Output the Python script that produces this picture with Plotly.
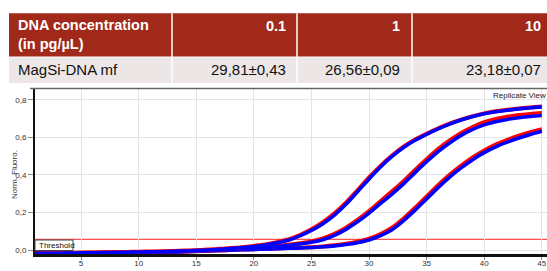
import plotly.graph_objects as go

# ---------------- data ----------------
cycles = list(range(1, 46))

a_blue = [-0.018,-0.017,-0.017,-0.016,-0.015,-0.015,-0.014,-0.013,-0.012,-0.011,
          -0.010,-0.009,-0.007,-0.005,-0.003,0.000,0.004,0.008,0.013,0.019,
          0.027,0.038,0.052,0.075,0.104,0.140,0.186,0.243,0.310,0.378,
          0.442,0.498,0.546,0.584,0.616,0.645,0.670,0.692,0.710,0.725,
          0.736,0.744,0.751,0.757,0.762]
a_red = [-0.016,-0.016,-0.015,-0.015,-0.014,-0.013,-0.012,-0.011,-0.010,-0.009,
         -0.008,-0.007,-0.005,-0.003,-0.001,0.002,0.006,0.010,0.015,0.022,
         0.030,0.042,0.057,0.080,0.110,0.148,0.195,0.252,0.318,0.386,
         0.448,0.503,0.550,0.588,0.619,0.648,0.673,0.694,0.712,0.727,
         0.738,0.746,0.753,0.759,0.764]
b_blue = [-0.019,-0.018,-0.018,-0.017,-0.016,-0.016,-0.015,-0.014,-0.013,-0.012,
          -0.011,-0.010,-0.009,-0.007,-0.005,-0.003,0.000,0.003,0.006,0.010,
          0.014,0.019,0.025,0.032,0.041,0.055,0.078,0.110,0.150,0.196,
          0.248,0.298,0.352,0.412,0.470,0.524,0.570,0.610,0.642,0.666,
          0.683,0.695,0.704,0.711,0.716]
b_red = [-0.018,-0.017,-0.017,-0.016,-0.015,-0.015,-0.014,-0.013,-0.012,-0.011,
         -0.010,-0.009,-0.008,-0.006,-0.004,-0.002,0.001,0.004,0.008,0.012,
         0.016,0.021,0.028,0.036,0.046,0.062,0.086,0.119,0.160,0.207,
         0.260,0.312,0.366,0.426,0.483,0.537,0.583,0.623,0.655,0.680,
         0.697,0.709,0.718,0.724,0.729]
c_blue = [-0.020,-0.019,-0.019,-0.018,-0.017,-0.017,-0.016,-0.015,-0.014,-0.013,
          -0.012,-0.011,-0.010,-0.009,-0.007,-0.005,-0.003,-0.001,0.001,0.003,
          0.005,0.007,0.009,0.011,0.013,0.017,0.022,0.029,0.039,0.053,
          0.076,0.108,0.156,0.212,0.272,0.332,0.388,0.437,0.481,0.518,
          0.549,0.574,0.596,0.615,0.632]
c_red = [-0.019,-0.018,-0.018,-0.017,-0.016,-0.016,-0.015,-0.014,-0.013,-0.012,
         -0.011,-0.010,-0.009,-0.008,-0.006,-0.004,-0.002,0.000,0.002,0.004,
         0.006,0.008,0.010,0.012,0.015,0.019,0.025,0.033,0.044,0.060,
         0.085,0.119,0.168,0.225,0.285,0.345,0.400,0.449,0.493,0.530,
         0.561,0.586,0.608,0.627,0.643]

threshold = 0.057

x_tick_vals = [5, 10, 15, 20, 25, 30, 35, 40, 45]
x_tick_text = ["5", "10", "15", "20", "25", "30", "35", "40", "45"]
y_tick_vals = [0.0, 0.2, 0.4, 0.6, 0.8]
y_tick_text = ["0,0", "0,2", "0,4", "0,6", "0,8"]

table_corner = "DNA concentration<br>(in pg/µL)"
concentrations = ["0.1", "1", "10"]
row_label = "MagSi-DNA mf"
ct_values = ["29,81±0,43", "26,56±0,09", "23,18±0,07"]

# ---------------- layout helpers ----------------
W, H = 547, 271
L, R, T, B = 35, 0, 89, 17
PW, PH = W - L - R, H - T - B

def fx(px):
    return (px - L) / PW

def fy(py):
    return (H - B - py) / PH

FONT = "Liberation Sans, Arial, sans-serif"

fig = go.Figure()

for red, blue in [(c_red, c_blue), (b_red, b_blue), (a_red, a_blue)]:
    fig.add_trace(go.Scatter(x=cycles, y=red, mode="lines", line=dict(color="#ff0000", width=4, shape="spline"),
                             hoverinfo="skip", showlegend=False))
    fig.add_trace(go.Scatter(x=cycles, y=blue, mode="lines", line=dict(color="#0000ff", width=3.6, shape="spline"),
                             hoverinfo="skip", showlegend=False))

shapes = []
annotations = []

# threshold line
shapes.append(dict(type="line", xref="paper", yref="y", x0=0, x1=1, y0=threshold, y1=threshold,
                   line=dict(color="#ff2020", width=1), layer="below"))
# threshold label box
shapes.append(dict(type="rect", xref="paper", yref="paper", x0=fx(35), x1=fx(73), y0=fy(250.5), y1=fy(240),
                   fillcolor="white", line=dict(color="#444444", width=1), layer="above"))
annotations.append(dict(text="Threshold", xref="paper", yref="paper", x=fx(37), y=fy(245.5),
                        xanchor="left", yanchor="middle", showarrow=False,
                        font=dict(family=FONT, size=8, color="#111111")))

# top frame line of chart
shapes.append(dict(type="line", xref="paper", yref="paper", x0=fx(30), x1=1, y0=fy(88.5), y1=fy(88.5),
                   line=dict(color="#666666", width=1.5)))

# "Replicate View"
annotations.append(dict(text="Replicate View", xref="paper", yref="paper", x=fx(548), y=fy(95),
                        xanchor="right", yanchor="middle", showarrow=False,
                        font=dict(family=FONT, size=8, color="#222222")))

# axis titles
annotations.append(dict(text="Norm. Fluoro.", xref="paper", yref="paper", x=fx(14), y=fy(175),
                        xanchor="center", yanchor="middle", textangle=-90, showarrow=False,
                        font=dict(family=FONT, size=8, color="#333333")))
annotations.append(dict(text="Cycles", xref="paper", yref="paper", x=fx(292), y=fy(275),
                        xanchor="center", yanchor="middle", showarrow=False,
                        font=dict(family=FONT, size=8, color="#333333")))

# ---------------- table ----------------
HDR = "#A0291A"
ROW = "#ECE6E7"
tbl_left, tbl_right = 9, 560
hdr_top, hdr_bot, row_bot = 13.3, 56.5, 83
col_edges = [172, 297, 412]
col_right_text = [288, 402, 543]

shapes.append(dict(type="rect", xref="paper", yref="paper", x0=fx(tbl_left), x1=fx(tbl_right),
                   y0=fy(hdr_bot), y1=fy(hdr_top), fillcolor=HDR, line=dict(width=0)))
shapes.append(dict(type="rect", xref="paper", yref="paper", x0=fx(tbl_left), x1=fx(tbl_right),
                   y0=fy(row_bot), y1=fy(hdr_bot + 1), fillcolor=ROW, line=dict(width=0)))
for ce in col_edges:
    shapes.append(dict(type="line", xref="paper", yref="paper", x0=fx(ce), x1=fx(ce),
                       y0=fy(row_bot), y1=fy(hdr_top), line=dict(color="white", width=1.5)))

annotations.append(dict(text="<b>" + table_corner.replace("<br>", "</b><br><b>") + "</b>", xref="paper", yref="paper",
                        x=fx(16), y=fy(34.5), xanchor="left", yanchor="middle", align="left", showarrow=False,
                        font=dict(family=FONT, size=14.5, color="white")))
for conc, xr in zip(concentrations, col_right_text):
    annotations.append(dict(text="<b>" + conc + "</b>", xref="paper", yref="paper", x=fx(xr), y=fy(25.5),
                            xanchor="right", yanchor="middle", showarrow=False,
                            font=dict(family=FONT, size=14.5, color="white")))
annotations.append(dict(text=row_label, xref="paper", yref="paper", x=fx(16), y=fy(70),
                        xanchor="left", yanchor="middle", showarrow=False,
                        font=dict(family=FONT, size=15, color="#111111")))
for val, xr in zip(ct_values, col_right_text):
    annotations.append(dict(text=val, xref="paper", yref="paper", x=fx(xr), y=fy(70),
                            xanchor="right", yanchor="middle", showarrow=False,
                            font=dict(family=FONT, size=15, color="#111111")))

x_per_px = 40 / (541.7 - 81)
y_per_px = 0.8 / (250 - 99.7)
fig.update_layout(
    width=W, height=H,
    margin=dict(l=L, r=R, t=T, b=B, pad=0),
    paper_bgcolor="white", plot_bgcolor="white",
    shapes=shapes, annotations=annotations,
    xaxis=dict(range=[1, 1 + PW * x_per_px], tickvals=x_tick_vals, ticktext=x_tick_text,
               showgrid=True, gridcolor="#e4e4e4", gridwidth=1, zeroline=False,
               showline=True, linecolor="#111111", linewidth=2.5,
               ticks="outside", ticklen=3, tickcolor="#888888", tickwidth=1,
               ticklabelstandoff=-3,
               tickfont=dict(family=FONT, size=8, color="#333333")),
    yaxis=dict(range=[-(254 - 250) * y_per_px, (250 - T) * y_per_px], tickvals=y_tick_vals, ticktext=y_tick_text,
               showgrid=True, gridcolor="#e4e4e4", gridwidth=1, zeroline=False,
               showline=True, linecolor="#111111", linewidth=2,
               ticks="outside", ticklen=5, tickcolor="#888888", tickwidth=1,
               tickfont=dict(family=FONT, size=8, color="#333333")),
)

fig.write_html("out.html", config={"displayModeBar": False},
               post_script="document.body.style.margin='0px';document.body.style.overflow='hidden';")
